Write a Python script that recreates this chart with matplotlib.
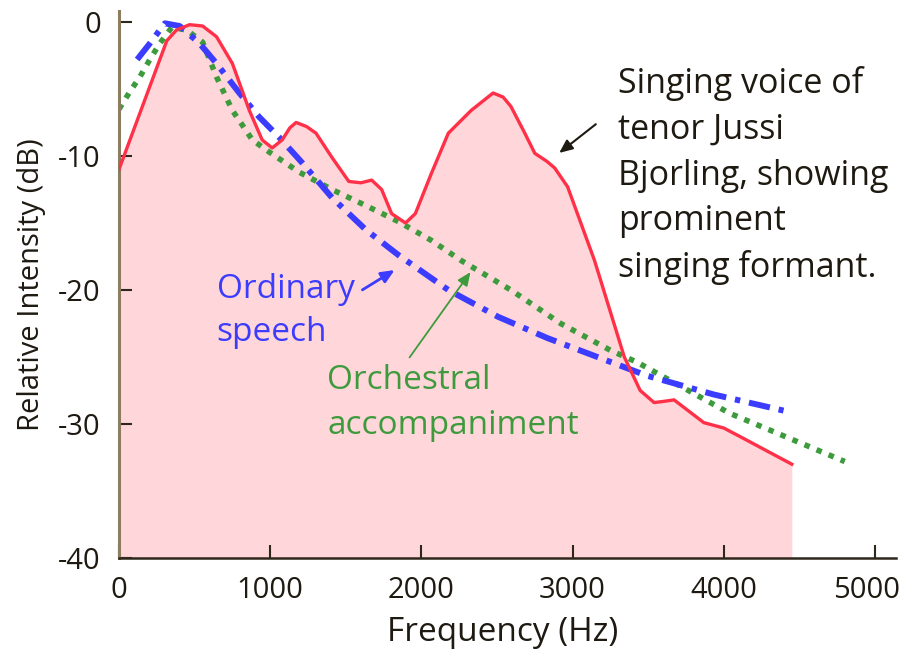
import matplotlib
matplotlib.use("Agg")
import matplotlib.pyplot as plt
import matplotlib.transforms as mtransforms

# ---- data ----
singing_freq = [0, 316, 380, 467, 553, 645, 750, 862, 947, 1013, 1079, 1130, 1171, 1240, 1303,
                1408, 1520, 1600, 1671, 1737, 1803, 1895, 1960, 2066, 2178, 2329, 2474, 2540,
                2592, 2684, 2750, 2830, 2882, 2967, 3145, 3342, 3447, 3539, 3610, 3671, 3868,
                4000, 4151, 4300, 4450]
singing_db = [-11.0, -1.4, -0.6, -0.2, -0.3, -1.1, -3.1, -6.6, -8.8, -9.4, -8.8, -7.9, -7.5, -7.8, -8.3,
              -10.1, -11.9, -12.0, -11.8, -12.5, -14.3, -15.0, -14.3, -11.3, -8.3, -6.6, -5.3, -5.6,
              -6.3, -8.3, -9.8, -10.4, -10.9, -12.3, -17.8, -25.0, -27.5, -28.4, -28.3, -28.2, -29.9,
              -30.3, -31.2, -32.1, -33.0]

speech_freq = [120, 204, 303, 401, 533, 645, 796, 928, 1059, 1211, 1408, 1632, 1849, 2178,
               2507, 2836, 3164, 3493, 3934, 4395]
speech_db = [-2.8, -1.6, -0.1, -0.3, -1.6, -3.1, -5.3, -7.1, -8.6, -10.5, -13.1, -15.5, -17.4, -20.0,
             -22.0, -23.6, -25.0, -26.4, -27.8, -29.0]

orch_freq = [0, 72, 138, 204, 270, 349, 447, 553, 645, 750, 882, 993, 1191, 1408, 1632, 1849,
             2066, 2263, 2592, 2921, 3250, 3428, 4039, 4800]
orch_db = [-6.5, -5.2, -4.1, -2.8, -1.6, -0.4, -0.6, -1.5, -4.1, -6.6, -8.8, -9.7, -11.2, -12.5,
           -13.7, -14.9, -16.3, -17.8, -20.0, -22.5, -24.5, -25.4, -29.2, -32.8]

x_ticks = [0, 1000, 2000, 3000, 4000, 5000]
y_ticks = [0, -10, -20, -30, -40]

FONT = ["Open Sans", "DejaVu Sans"]
plt.rcParams["font.family"] = FONT

RED = "#ff3048"
FILL = "#ffd6d9"
BLUE = "#3c3cff"
GREEN = "#3d9b3d"
TEXT = "#1e1a12"

fig = plt.figure(figsize=(9.03, 6.51), dpi=100)
ax = fig.add_axes([119 / 903, 93 / 651, (896 - 119) / 903, (558 - 11) / 651])

ax.fill_between(singing_freq, singing_db, -40, color=FILL, lw=0, zorder=1)
ax.plot(singing_freq, singing_db, color=RED, lw=2.4, solid_joinstyle="round", zorder=4)
ax.plot(speech_freq, speech_db, color=BLUE, lw=4.3, dashes=(3.6, 1.5, 0.9, 1.5), zorder=3)
ax.plot(orch_freq, orch_db, color=GREEN, lw=4.0, dashes=(1.0, 1.35), zorder=2)

ax.set_xlim(0, (896 - 119) / 0.1512)
ax.set_ylim(-40, 0.82)
ax.set_xticks(x_ticks)
ax.set_yticks(y_ticks)
ax.set_xticklabels([str(v) for v in x_ticks])
ax.set_yticklabels([str(v) for v in y_ticks])

for s in ["top", "right"]:
    ax.spines[s].set_visible(False)
ax.spines["left"].set_color("#8c7c60")
ax.spines["left"].set_linewidth(2.2)
ax.spines["bottom"].set_color("#2e271c")
ax.spines["bottom"].set_linewidth(1.8)
ax.tick_params(axis="both", direction="in", length=9.5, width=1.5, colors="#2e271c",
               labelcolor=TEXT, pad=13)
ax.tick_params(axis="x", labelsize=21)
ax.tick_params(axis="y", labelsize=21)

# shift the last x tick label slightly left, as in the reference
last = ax.get_xticklabels()[-1]
last.set_transform(last.get_transform() + mtransforms.ScaledTranslation(-8 / 100, 0, fig.dpi_scale_trans))

ax.set_xlabel("Frequency (Hz)", fontsize=24, color=TEXT)
ax.xaxis.set_label_coords((503 - 119) / 777, (558 - 616) / 547)
ax.set_ylabel("Relative Intensity (dB)", fontsize=21, color=TEXT)
ax.yaxis.set_label_coords((46 - 119) / 777, 0.5)

ax.text(3300, -3.3, "Singing voice of\ntenor Jussi\nBjorling, showing\nprominent\nsinging formant.",
        fontsize=24.5, color=TEXT, va="top", ha="left", linespacing=1.45)
ax.text(645, -18.75, "Ordinary\nspeech", fontsize=24, color=BLUE, va="top", ha="left",
        linespacing=1.4)
ax.text(1378, -25.5, "Orchestral\naccompaniment", fontsize=24, color=GREEN, va="top", ha="left",
        linespacing=1.48)

ax.annotate("", xy=(2897, -9.9), xytext=(3168, -7.5),
            arrowprops=dict(arrowstyle="-|>,head_length=0.8,head_width=0.35", color=TEXT, lw=1.5))
ax.annotate("", xy=(1839, -18.4), xytext=(1594, -20.1),
            arrowprops=dict(arrowstyle="-|>,head_length=0.8,head_width=0.35", color=BLUE, lw=2))
ax.annotate("", xy=(2335, -18.5), xytext=(1911, -25.2),
            arrowprops=dict(arrowstyle="-|>,head_length=0.8,head_width=0.35", color=GREEN, lw=1.3))

fig.savefig("out.png", dpi=100)
